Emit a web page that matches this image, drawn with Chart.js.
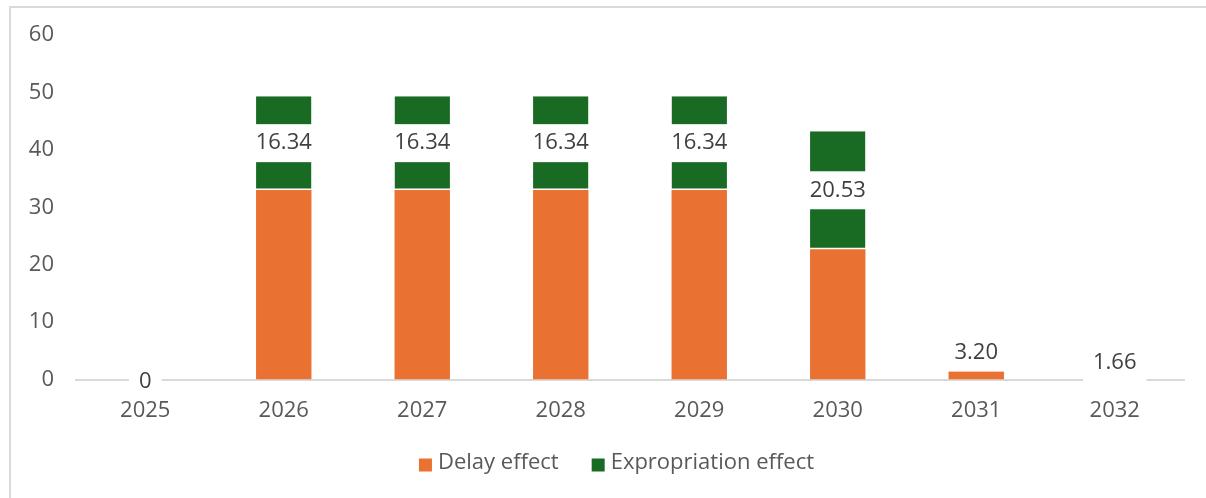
<!DOCTYPE html>
<html>
<head>
<meta charset="utf-8">
<script src="https://cdn.jsdelivr.net/npm/chart.js@4/dist/chart.umd.min.js"></script>
<style>
  html, body { margin: 0; padding: 0; background: #fff; }
  body { width: 1206px; height: 498px; overflow: hidden; position: relative; }
  #frame {
    position: absolute; left: 9px; top: 6px; right: 0; bottom: 0;
    border-left: 2px solid #d9d9d9; border-top: 2px solid #d9d9d9;
  }
  #wrap { position: absolute; left: 0; top: 0; width: 1195px; height: 490px; }
</style>
</head>
<body>
<div id="frame"><div id="wrap"><canvas id="myChart"></canvas></div></div>
<script>
// Years on the x axis
const years = ['2025', '2026', '2027', '2028', '2029', '2030', '2031', '2032'];

// Stacked series
const delayEffect = [0, 33.0, 33.0, 33.0, 33.0, 22.7, 1.74, 0];
const expropriationEffect = [0, 16.34, 16.34, 16.34, 16.34, 20.53, 3.20, 1.66];

// Y axis ticks
const yTicks = [0, 10, 20, 30, 40, 50, 60];

const ORANGE = '#E97132';
const GREEN = '#196B24';
const FONT = '"Open Sans", "Liberation Sans", sans-serif';
const SIZE = 22;

// Value labels for the expropriation series, on a white box
const boxLabels = {
  id: 'boxLabels',
  afterDatasetsDraw(chart) {
    const ctx = chart.ctx;
    const green = chart.getDatasetMeta(1);
    const orange = chart.getDatasetMeta(0);
    ctx.save();
    ctx.font = SIZE + 'px ' + FONT;
    ctx.textAlign = 'center';
    ctx.textBaseline = 'middle';
    expropriationEffect.forEach((v, i) => {
      const bar = green.data[i];
      const text = v === 0 ? '0' : v.toFixed(2);
      const w = ctx.measureText(text).width + 20;
      const h = 38;
      const segH = bar.base - bar.y;
      let cy = (bar.y + bar.base) / 2;
      if (v > 0 && segH < h) cy = orange.data[i].y - 17;
      if (v === 0) cy = bar.base + 2;
      ctx.fillStyle = '#fff';
      ctx.fillRect(bar.x - w / 2, cy - h / 2, w, h);
      ctx.fillStyle = '#404040';
      ctx.fillText(text, bar.x, cy);
    });
    ctx.restore();
  }
};

// Legend row under the axis: small square, tight gap, wide spacing between items
const bottomLegend = {
  id: 'bottomLegend',
  afterDraw(chart) {
    const ctx = chart.ctx;
    const box = 13, gap = 6, spacing = 33;
    ctx.save();
    ctx.font = SIZE + 'px ' + FONT;
    ctx.textBaseline = 'middle';
    const items = chart.data.datasets.map((ds) => ({
      text: ds.label,
      color: ds.backgroundColor,
      w: box + gap + ctx.measureText(ds.label).width,
    }));
    const total = items.reduce((a, it) => a + it.w, 0) + spacing * (items.length - 1);
    let x = chart.width / 2 + 8 - total / 2;
    const y = chart.height - 35;
    items.forEach((it) => {
      ctx.fillStyle = it.color;
      ctx.fillRect(x, y - box / 2 + 2, box, box);
      ctx.fillStyle = '#595959';
      ctx.fillText(it.text, x + box + gap, y);
      x += it.w + spacing;
    });
    ctx.restore();
  }
};

const ctx = document.getElementById('myChart').getContext('2d');
new Chart(ctx, {
  type: 'bar',
  data: {
    labels: years,
    datasets: [
      {
        label: 'Delay effect',
        data: delayEffect,
        backgroundColor: ORANGE,
        borderWidth: 0,
      },
      {
        label: 'Expropriation effect',
        data: expropriationEffect,
        backgroundColor: GREEN,
        borderColor: '#fff',
        borderWidth: { bottom: 1.5 },
        borderSkipped: false,
      },
    ],
  },
  options: {
    responsive: true,
    maintainAspectRatio: false,
    animation: false,
    datasets: { bar: { barPercentage: 0.4, categoryPercentage: 1 } },
    layout: { padding: { left: 0, right: 22, top: 27, bottom: 56 } },
    plugins: {
      legend: { display: false },
      tooltip: { enabled: false },
    },
    scales: {
      x: {
        stacked: true,
        grid: { display: false, drawTicks: false },
        border: { display: true, color: '#d9d9d9', width: 2 },
        ticks: { color: '#595959', padding: 18, font: { family: FONT, size: SIZE } },
      },
      y: {
        stacked: true,
        min: 0,
        max: 60,
        afterBuildTicks(scale) {
          scale.ticks = yTicks.map((v) => ({ value: v }));
        },
        afterFit(scale) {
          scale.width = 65;
          scale.paddingTop = 0;
          scale.paddingBottom = 0;
        },
        grid: { display: false, drawTicks: false },
        border: { display: false },
        ticks: { color: '#595959', padding: 22, font: { family: FONT, size: SIZE } },
      },
    },
  },
  plugins: [boxLabels, bottomLegend],
});
</script>
</body>
</html>
